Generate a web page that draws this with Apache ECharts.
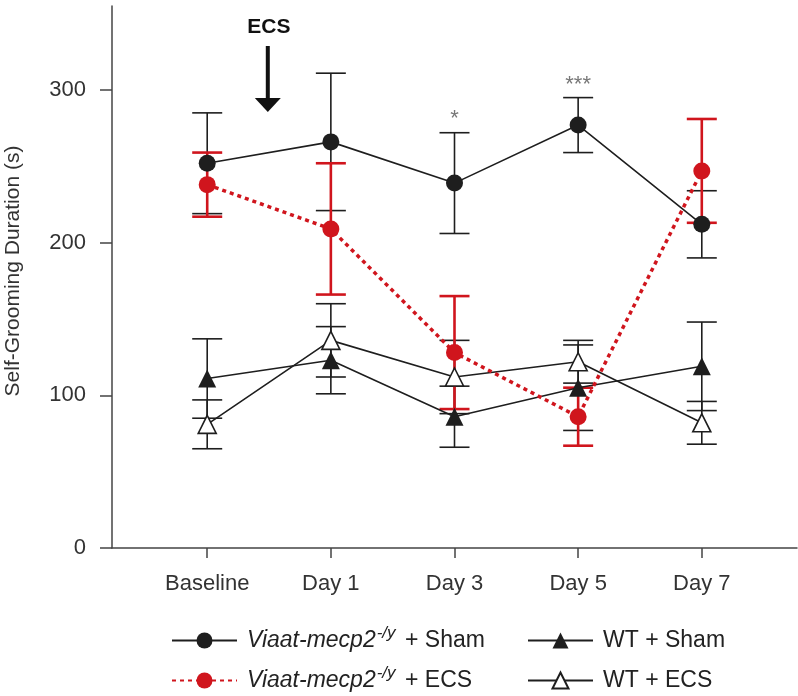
<!DOCTYPE html>
<html>
<head>
<meta charset="utf-8">
<script src="https://cdn.jsdelivr.net/npm/echarts@6/dist/echarts.min.js"></script>
<style>
  html, body { margin: 0; padding: 0; background: #fff; }
  #chart { width: 798px; height: 696px; }
</style>
</head>
<body>
<div id="chart"></div>
<script>
// values (seconds)
const categories = ['Baseline', 'Day 1', 'Day 3', 'Day 5', 'Day 7'];
const koShamMean = [252, 266, 239, 277, 212];
const koShamErr = [33, 45, 33, 18, 22];
const koEcsMean = [238, 209, 128, 86, 247];
const koEcsErr = [21, 43, 37, 19, 34];
const wtShamMean = [111, 123, 86, 105, 119];
const wtShamErr = [26, 22, 20, 28, 29];
const wtEcsMean = [81, 136, 112, 122, 82];
const wtEcsErr = [16, 24, 24, 14, 14];
const yTicks = [0, 100, 200, 300];
// significance marks: [category index, y value, text]
const stars = [[2, 281, '*'], [3, 303, '***']];

const BLACK = '#1e1e1e';
const RED = '#d0151d';
const FONT = 'Liberation Sans, Arial, sans-serif';

const KO_SHAM = 'ko-sham', KO_ECS = 'ko-ecs', WT_SHAM = 'wt-sham', WT_ECS = 'wt-ecs';
const legendText = {
  [KO_SHAM]: '{i|Viaat-mecp2}{s|-/y}{n| + Sham}',
  [KO_ECS]: '{i|Viaat-mecp2}{s|-/y}{n| + ECS}',
  [WT_SHAM]: '{n|WT + Sham}{s| }',
  [WT_ECS]: '{n|WT + ECS}{s| }'
};

const pts = (arr) => arr.map((v, i) => [i, v]);
const bars = (mean, err) => mean.map((v, i) => [i, v - err[i], v + err[i]]);

function errorSeries(mean, err, color, width) {
  return {
    type: 'custom',
    data: bars(mean, err),
    z: 2,
    silent: true,
    encode: { x: 0, y: [1, 2] },
    renderItem(params, api) {
      const x = api.value(0);
      const lo = api.coord([x, api.value(1)]);
      const hi = api.coord([x, api.value(2)]);
      const h = 15;
      const style = { stroke: color, lineWidth: width };
      return {
        type: 'group',
        children: [
          { type: 'line', shape: { x1: hi[0], y1: hi[1], x2: lo[0], y2: lo[1] }, style },
          { type: 'line', shape: { x1: hi[0] - h, y1: hi[1], x2: hi[0] + h, y2: hi[1] }, style },
          { type: 'line', shape: { x1: lo[0] - h, y1: lo[1], x2: lo[0] + h, y2: lo[1] }, style }
        ]
      };
    }
  };
}

function lineSeries(name, mean, opts) {
  return Object.assign({
    name,
    type: 'line',
    data: pts(mean),
    z: 3,
    symbolSize: 17,
    lineStyle: { color: BLACK, width: 1.6 },
    itemStyle: { color: BLACK },
    animation: false
  }, opts);
}

const richStyle = {
  i: { fontFamily: FONT, fontSize: 23, fontStyle: 'italic', color: '#222' },
  s: { fontFamily: FONT, fontSize: 17, fontStyle: 'italic', color: '#222', padding: [0, 3, 14, 1] },
  n: { fontFamily: FONT, fontSize: 23, color: '#222' }
};

function legendRow(name, left, top) {
  return {
    data: [name],
    left,
    top,
    height: 40,
    itemWidth: 65,
    itemHeight: 20,
    formatter: (n) => legendText[n],
    textStyle: { rich: richStyle, padding: [0, 0, 0, 5] }
  };
}

const chart = echarts.init(document.getElementById('chart'), null, { renderer: 'canvas' });

chart.setOption({
  animation: false,
  backgroundColor: '#fff',
  grid: { left: 112, right: 1, top: 6, bottom: 148, outerBoundsMode: 'none' },
  xAxis: {
    type: 'value',
    min: -0.77,
    max: 4.77,
    splitLine: { show: false },
    axisLine: { show: true, onZero: false, lineStyle: { color: '#444', width: 1.5 } },
    axisTick: { show: true, length: 10, lineStyle: { color: '#444', width: 1.5 }, customValues: [0, 1, 2, 3, 4] },
    axisLabel: {
      customValues: [0, 1, 2, 3, 4],
      formatter: (v) => categories[Math.round(v)],
      margin: 25,
      fontFamily: FONT,
      fontSize: 22,
      color: '#333'
    }
  },
  yAxis: {
    type: 'value',
    min: 0,
    max: 355,
    name: 'Self-Grooming Duration (s)',
    nameLocation: 'middle',
    nameGap: 88,
    nameTextStyle: { fontFamily: FONT, fontSize: 21, color: '#333', padding: [0, 0, 0, 12] },
    splitLine: { show: false },
    axisLine: { show: true, onZero: false, lineStyle: { color: '#444', width: 1.5 } },
    axisTick: { show: true, length: 12, lineStyle: { color: '#444', width: 1.5 }, customValues: yTicks },
    axisLabel: { customValues: yTicks, margin: 26, fontFamily: FONT, fontSize: 22, color: '#333' }
  },
  legend: [
    legendRow(KO_SHAM, 166, 620),
    legendRow(KO_ECS, 166, 660),
    legendRow(WT_SHAM, 522, 620),
    legendRow(WT_ECS, 522, 660)
  ],
  series: [
    errorSeries(wtShamMean, wtShamErr, BLACK, 1.6),
    errorSeries(wtEcsMean, wtEcsErr, BLACK, 1.6),
    errorSeries(koShamMean, koShamErr, BLACK, 1.6),
    errorSeries(koEcsMean, koEcsErr, RED, 2.6),
    lineSeries(WT_SHAM, wtShamMean, { symbol: 'triangle', symbolSize: 18 }),
    lineSeries(WT_ECS, wtEcsMean, {
      symbol: 'triangle', symbolSize: 18,
      itemStyle: { color: '#fff', borderColor: BLACK, borderWidth: 1.6 }
    }),
    lineSeries(KO_SHAM, koShamMean, { symbol: 'circle' }),
    lineSeries(KO_ECS, koEcsMean, {
      symbol: 'circle',
      z: 4,
      lineStyle: { color: RED, width: 3.5, type: [4, 4] },
      itemStyle: { color: RED }
    }),
    {
      type: 'scatter',
      data: stars.map((s) => [s[0], s[1]]),
      symbolSize: 0,
      silent: true,
      label: {
        show: true,
        position: 'inside',
        formatter: (p) => stars[p.dataIndex][2],
        fontFamily: FONT,
        fontSize: 22,
        color: '#555'
      }
    }
  ]
});

// ECS arrow between Baseline and Day 1
const a = chart.convertToPixel({ gridIndex: 0 }, [0.49, 0]);
chart.setOption({
  graphic: [
    { type: 'text', x: a[0] + 1, y: 17, style: { text: 'ECS', textAlign: 'center', textVerticalAlign: 'top', fontFamily: FONT, fontSize: 21, fontWeight: 'bold', fill: '#111' } },
    { type: 'line', shape: { x1: a[0], y1: 46, x2: a[0], y2: 100 }, style: { stroke: '#111', lineWidth: 4 } },
    { type: 'polygon', shape: { points: [[a[0] - 13, 98], [a[0] + 13, 98], [a[0], 112]] }, style: { fill: '#111' } }
  ]
});
</script>
</body>
</html>
